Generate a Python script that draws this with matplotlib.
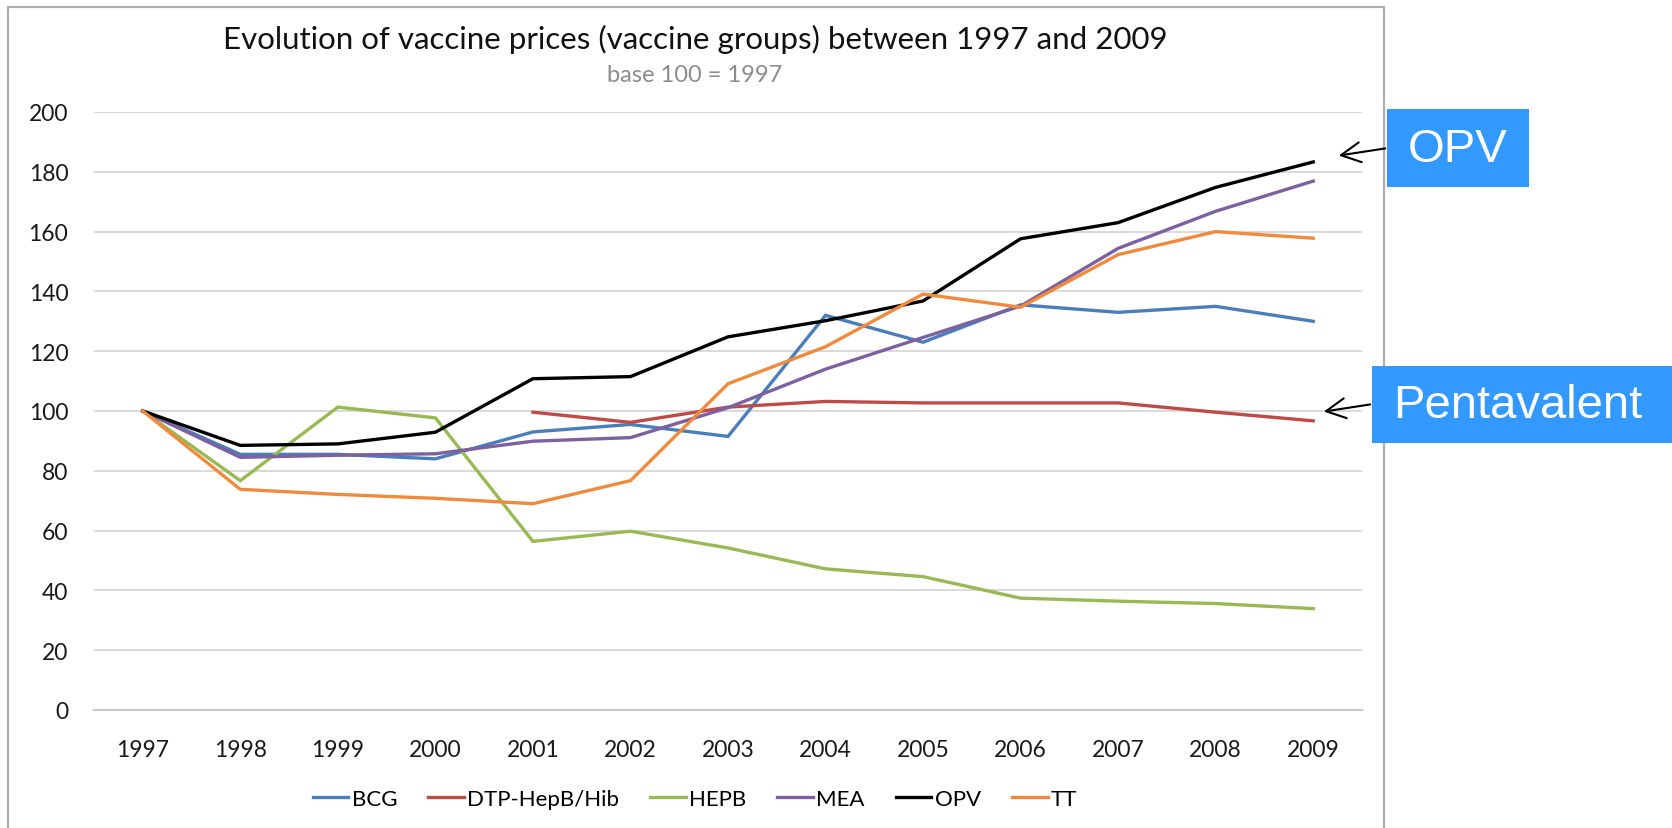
import matplotlib
matplotlib.use("Agg")
import matplotlib.pyplot as plt
from matplotlib.patches import Rectangle, FancyArrowPatch

years = list(range(1997, 2010))

bcg = [100, 85.5, 85.5, 84, 93, 95.5, 91.5, 132, 123, 135.5, 133, 135, 130]
dtp_years = list(range(2001, 2010))
dtp = [99.6, 96.2, 101.3, 103.2, 102.7, 102.7, 102.7, 99.6, 96.7]
hepb = [100, 76.7, 101.3, 97.7, 56.4, 59.8, 54.2, 47.2, 44.6, 37.4, 36.4, 35.6, 33.9]
mea = [100, 84.5, 85.2, 85.7, 89.9, 91.1, 101.1, 114, 124.6, 135.1, 154.4, 166.8, 176.9]
opv = [100, 88.5, 89, 92.9, 110.8, 111.5, 124.8, 130.2, 136.8, 157.6, 163, 174.8, 183.3]
tt = [100, 73.8, 72.1, 70.8, 69, 76.7, 109.1, 121.5, 139.1, 134.7, 152.3, 160, 157.8]

series = [
    ("BCG", years, bcg, "#4A7EBB"),
    ("DTP-HepB/Hib", dtp_years, dtp, "#BE4B48"),
    ("HEPB", years, hepb, "#98B954"),
    ("MEA", years, mea, "#7D60A0"),
    ("OPV", years, opv, "#000000"),
    ("TT", years, tt, "#F08A3C"),
]

W, H = 1672, 829
font = "Lato"


def fx(px):
    return px / W


def fy(py):
    # pixel rows counted from the top
    return 1 - py / H


fig = plt.figure(figsize=(W / 100, H / 100), dpi=100)
fig.patch.set_facecolor("white")

# chart frame
fig.add_artist(Rectangle((fx(8), fy(840)), fx(1384) - fx(8), fy(8) - fy(840),
                         transform=fig.transFigure, fill=False,
                         edgecolor="#b0b0b0", lw=1.6, clip_on=False))

ax = fig.add_axes([fx(94), fy(711), fx(1362) - fx(94), fy(113) - fy(711)])

for name, xs, ys, col in series:
    ax.plot(xs, ys, color=col, lw=2.4, label=name, solid_joinstyle="miter")

ax.set_xlim(1996.5, 2009.5)
ax.set_ylim(0, 200)
ax.set_yticks(range(0, 201, 20))
ax.set_xticks(years)
ax.grid(axis="y", color="#d9d9d9", lw=1.4)
ax.set_axisbelow(True)
for s in ["top", "right", "left"]:
    ax.spines[s].set_visible(False)
ax.spines["bottom"].set_color("#c8c8c8")
ax.spines["bottom"].set_linewidth(1.6)
ax.tick_params(length=0, labelsize=16.5, colors="#1a1a1a")
ax.tick_params(axis="x", pad=21)
ax.tick_params(axis="y", pad=18.5)
for lab in ax.get_xticklabels() + ax.get_yticklabels():
    lab.set_fontfamily(font)

fig.text(fx(695), fy(39), "Evolution of vaccine prices (vaccine groups) between 1997 and 2009",
         ha="center", va="center", fontsize=22.5, family=font, color="#111111")
fig.text(fx(695), fy(75), "base 100 = 1997", ha="center", va="center",
         fontsize=17, family=font, color="#8c8c8c")

ax.legend(loc="center", bbox_to_anchor=(fx(695), fy(800)), bbox_transform=fig.transFigure,
          ncol=6, frameon=False, handlelength=1.6, handletextpad=0.15,
          columnspacing=1.4, prop={"family": font, "size": 16})

# callout boxes with arrows
callouts = [
    ("OPV", (1387, 110, 1529, 188), (1388, 149), (1336, 157)),
    ("Pentavalent", (1372, 367, 1680, 444), (1373, 405), (1321, 413)),
]
for label, (x0, y0, x1, y1), tail, head in callouts:
    fig.add_artist(Rectangle((fx(x0), fy(y1)), fx(x1) - fx(x0), fy(y0) - fy(y1),
                             transform=fig.transFigure, facecolor="#3399FF",
                             edgecolor="none", clip_on=False))
    cx = (x0 + min(x1, 1664)) / 2
    fig.text(fx(cx), fy((y0 + y1) / 2 + 1), label, ha="center", va="center",
             fontsize=34, family="Liberation Sans", color="white")
    fig.add_artist(FancyArrowPatch((fx(tail[0]), fy(tail[1])), (fx(head[0]), fy(head[1])),
                                   transform=fig.transFigure,
                                   arrowstyle="->,head_length=0.7,head_width=0.36",
                                   mutation_scale=20, color="black", lw=1.5))

fig.savefig("out.png", dpi=100)
